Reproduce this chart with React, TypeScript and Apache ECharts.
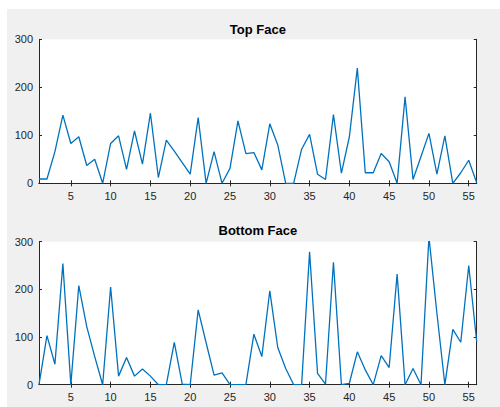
import React, { useEffect, useRef } from "react";
import * as echarts from "echarts";

const xCategories: string[] = Array.from({ length: 56 }, (_, i) => String(i + 1));
const topFace: number[] = [9, 9, 66, 142, 83, 97, 37, 50, 0, 83, 99, 29, 109, 40, 146, 12, 90, 67, 43, 19, 137, 0, 66, 0, 31, 130, 62, 64, 28, 124, 80, 0, 0, 71, 102, 19, 8, 143, 21, 97, 240, 22, 22, 62, 45, 0, 180, 8, 56, 104, 19, 99, 0, 22, 48, 1];
const bottomFace: number[] = [0, 103, 43, 254, 0, 208, 122, 59, 0, 205, 18, 57, 18, 33, 18, 0, 0, 89, 1, 0, 157, 88, 20, 25, 0, 0, 0, 106, 59, 197, 78, 34, 0, 0, 279, 24, 1, 257, 0, 3, 69, 31, 0, 61, 36, 232, 0, 34, 0, 310, 150, 0, 116, 89, 250, 90];
const titles: string[] = ["Top Face", "Bottom Face"];
const yMin = 0;
const yMax = 300;
const yInterval = 100;

const FONT = "'Liberation Sans', Arial, Helvetica, sans-serif";
const AXIS_COLOR = "#262626";
const LINE_COLOR = "#0072BD";

export default function App() {
  const ref = useRef<HTMLDivElement>(null);
  useEffect(() => {
    if (!ref.current) return;
    const chart = echarts.init(ref.current, undefined, { renderer: "svg" });
    const grids = [
      { left: 39, top: 39.3, right: 23.3, height: 144 },
      { left: 39, top: 241.7, right: 23.3, height: 143 },
    ];
    const tickFn = (index: number) => (index + 1) % 5 === 0;
    const xAxes: any[] = [];
    const yAxes: any[] = [];
    grids.forEach((_, gi) => {
      xAxes.push({
        type: "category",
        gridIndex: gi,
        data: xCategories,
        boundaryGap: false,
        position: "bottom",
        axisLine: { show: true, lineStyle: { color: AXIS_COLOR, width: 1 } },
        axisTick: { show: true, inside: true, length: 3, interval: tickFn, lineStyle: { color: AXIS_COLOR } },
        axisLabel: { show: true, interval: tickFn, margin: 7, color: AXIS_COLOR, fontSize: 11, fontFamily: FONT },
        splitLine: { show: false },
      });
      xAxes.push({
        type: "category",
        gridIndex: gi,
        data: xCategories,
        boundaryGap: false,
        position: "top",
        axisLine: { show: true, lineStyle: { color: AXIS_COLOR, width: 1 } },
        axisTick: { show: true, inside: true, length: 3, interval: tickFn, lineStyle: { color: AXIS_COLOR } },
        axisLabel: { show: false },
        splitLine: { show: false },
      });
      yAxes.push({
        type: "value",
        gridIndex: gi,
        min: yMin,
        max: yMax,
        interval: yInterval,
        position: "left",
        axisLine: { show: true, lineStyle: { color: AXIS_COLOR, width: 1 } },
        axisTick: { show: true, inside: true, length: 3, lineStyle: { color: AXIS_COLOR } },
        axisLabel: { show: true, margin: 6, color: AXIS_COLOR, fontSize: 11, fontFamily: FONT },
        splitLine: { show: false },
      });
      yAxes.push({
        type: "value",
        gridIndex: gi,
        min: yMin,
        max: yMax,
        interval: yInterval,
        position: "right",
        axisLine: { show: true, lineStyle: { color: AXIS_COLOR, width: 1 } },
        axisTick: { show: true, inside: true, length: 3, lineStyle: { color: AXIS_COLOR } },
        axisLabel: { show: false },
        splitLine: { show: false },
      });
    });
    const centerX = 39 + (500 - 39 - 23.3) / 2;
    const titleStyle = { fontSize: 13, fontWeight: "bold", color: "#000", fontFamily: FONT };
    chart.setOption({
      animation: false,
      backgroundColor: "#ffffff",
      grid: grids.map((g) => ({ ...g, show: true, backgroundColor: "#ffffff", borderWidth: 0 })),
      title: [
        { text: titles[0], left: centerX, top: 22.5, padding: 0, textAlign: "center", textStyle: titleStyle },
        { text: titles[1], left: centerX, top: 224, padding: 0, textAlign: "center", textStyle: titleStyle },
      ],
      graphic: [
        { type: "rect", z: -100, silent: true, shape: { x: 7, y: 9, width: 493, height: 398 }, style: { fill: "#f0f0f0" } },
      ],
      xAxis: xAxes,
      yAxis: yAxes,
      series: [
        {
          type: "line",
          xAxisIndex: 0,
          yAxisIndex: 0,
          data: topFace,
          showSymbol: false,
          symbol: "none",
          clip: true,
          lineStyle: { color: LINE_COLOR, width: 1.3 },
        },
        {
          type: "line",
          xAxisIndex: 2,
          yAxisIndex: 2,
          data: bottomFace,
          showSymbol: false,
          symbol: "none",
          clip: true,
          lineStyle: { color: LINE_COLOR, width: 1.3 },
        },
      ],
    });
    return () => chart.dispose();
  }, []);
  return (
    <div
      ref={ref}
      style={{ position: "fixed", left: 0, top: 0, width: 500, height: 407 }}
    />
  );
}
